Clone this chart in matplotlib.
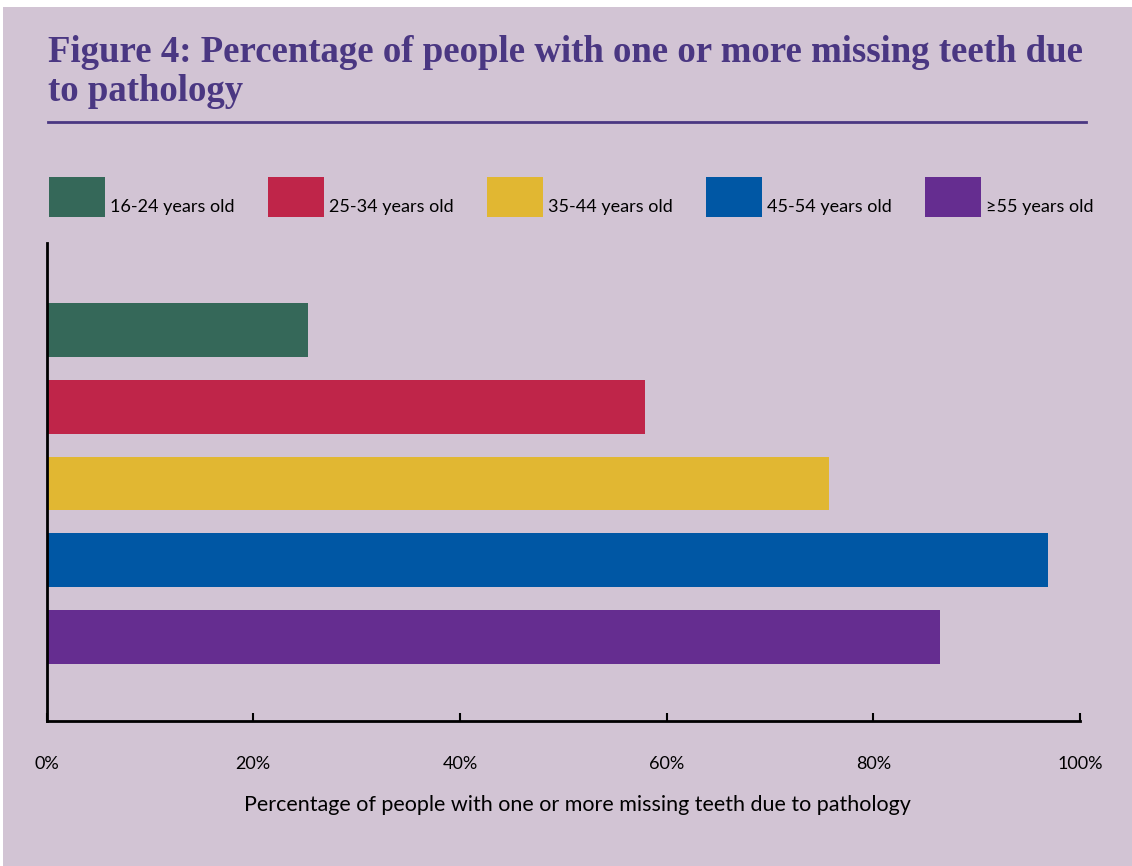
import matplotlib.pyplot as plt
from matplotlib.patches import Rectangle
from matplotlib.lines import Line2D

# data
grupos = ['16-24 years old', '25-34 years old', '35-44 years old',
          '45-54 years old', '\u226555 years old']
porcentajes = [25.3, 57.9, 75.7, 96.9, 86.5]
colores = ['#356859', '#BF2549', '#E1B732', '#0057A4', '#652D90']
ticks = [0, 20, 40, 60, 80, 100]

fondo = '#D2C4D4'
morado = '#4A3782'
W, H = 1132, 866

fig = plt.figure(figsize=(W / 100, H / 100), dpi=100, facecolor='white')
fig.patches.append(Rectangle((3 / W, 0), 1, (H - 7) / H, transform=fig.transFigure,
                             facecolor=fondo, edgecolor='none', zorder=-10))

# titulo + linea
fig.text(48 / W, 1 - 62 / H, 'Figure 4: Percentage of people with one or more missing teeth due',
         family='Liberation Serif', fontweight='bold', fontsize=26.5, color=morado, va='baseline')
fig.text(48 / W, 1 - 101 / H, 'to pathology',
         family='Liberation Serif', fontweight='bold', fontsize=26.5, color=morado, va='baseline')
fig.lines.append(Line2D([48 / W, 1086 / W], [1 - 122 / H, 1 - 122 / H],
                        transform=fig.transFigure, color=morado, linewidth=2))

# leyenda manual
for i, (g, c) in enumerate(zip(grupos, colores)):
    x0 = 49 + i * 219
    fig.patches.append(Rectangle((x0 / W, 1 - 217 / H), 56 / W, 40 / H,
                                 transform=fig.transFigure, facecolor=c, edgecolor='none'))
    fig.text((x0 + 61) / W, 1 - 212 / H, g, family='Lato', fontsize=13,
             color='black', va='baseline')

ax = fig.add_axes([46.5 / W, (H - 721) / H, (1080 - 46.5) / W, (721 - 243) / H])
ax.set_facecolor('none')
ax.barh(range(len(grupos)), porcentajes, height=0.7, color=colores)
ax.set_ylim(5.09, -1.13)
ax.set_xlim(0, 100)
ax.set_yticks([])
ax.set_xticks(ticks)
ax.set_xticklabels([f'{t}%' for t in ticks], family='Lato', fontsize=13)
ax.tick_params(axis='x', direction='in', length=6, width=1.5, pad=25)
for s in ['top', 'right']:
    ax.spines[s].set_visible(False)
for s in ['left', 'bottom']:
    ax.spines[s].set_linewidth(2)
ax.set_xlabel('Percentage of people with one or more missing teeth due to pathology',
              family='Lato', fontsize=15.5)
ax.xaxis.set_label_coords((577 - 46.5) / (1080 - 46.5), -0.155)

fig.savefig('out.png', dpi=100, facecolor='white')
